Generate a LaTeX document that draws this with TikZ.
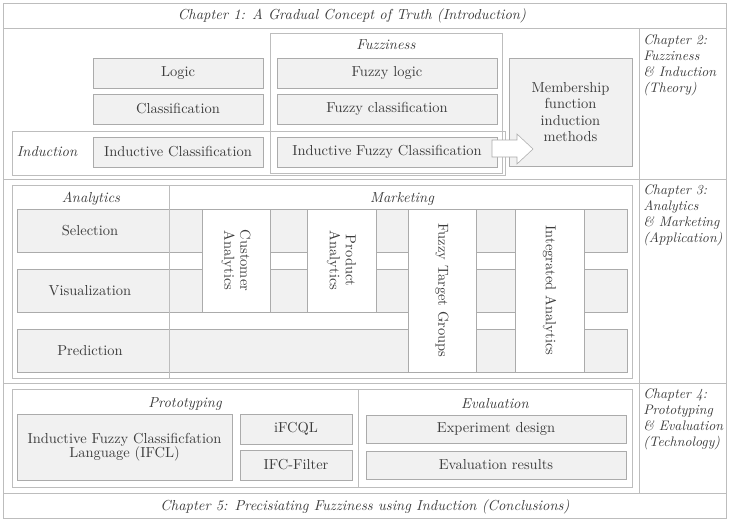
\documentclass[tikz,border=0pt]{standalone}
\usepackage{tikz}

\definecolor{boxfill}{HTML}{F1F1F1}
\definecolor{boxline}{HTML}{ABABAB}
\definecolor{frameline}{HTML}{BDBDBD}
\definecolor{ink}{HTML}{3C3C3C}

\begin{document}
\begin{tikzpicture}[x=0.025cm, y=-0.025cm,
  box/.style={draw=boxline, fill=boxfill},
  colbox/.style={draw=boxline, fill=white},
  frame/.style={draw=frameline},
  txt/.style={text=ink, font=\fontsize{10.3}{11.4}\selectfont, align=center},
  lab/.style={text=ink, font=\fontsize{10.3}{11.4}\selectfont\itshape},
  chap/.style={text=ink, font=\fontsize{9.8}{11.4}\selectfont\itshape, align=left, anchor=north west, inner sep=0pt}]
\fill[white] (0,0) rectangle (729,521);
\useasboundingbox (0,0) rectangle (729,521);

% outer frame and chapter rows
\draw[frame] (3,3) rectangle (726,518);
\foreach \y in {28,179,383,493}
\draw[frame] (3,\y) -- (726,\y);
\draw[frame] (639,28) -- (639,493);

\node[lab] (chone) at (352,16) {Chapter 1: A Gradual Concept of Truth (Introduction)};
\node[chap] (chtwo) at (643,34) {Chapter 2:\\Fuzziness\\\& Induction\\(Theory)};
\node[chap] (chthree) at (643,184) {Chapter 3:\\Analytics\\\& Marketing\\(Application)};
\node[chap] (chfour) at (643,388) {Chapter 4:\\Prototyping\\\& Evaluation\\(Technology)};
\node[lab] (chfive) at (365,507) {Chapter 5: Precisiating Fuzziness using Induction (Conclusions)};

%%% theory
\draw[frame] (270,33) rectangle (502,173);
\draw[frame] (12,131) rectangle (505,175);
\node[lab] (fuzz) at (386,45) {Fuzziness};
\node[lab] (induc) at (47,152) {Induction};

\draw[box] (93,58) rectangle (263,88) node[txt,pos=.5] (logic) {Logic};
\draw[box] (93,94) rectangle (263,124) node[txt,pos=.5] (classif) {Classification};
\draw[box] (93,137) rectangle (263,167) node[txt,pos=.5] (indclass) {Inductive Classification};
\draw[box] (277,58) rectangle (497,88) node[txt,pos=.5] (fuzzlogic) {Fuzzy logic};
\draw[box] (277,94) rectangle (497,124) node[txt,pos=.5] (fuzzclass) {Fuzzy classification};
\draw[box] (277,137) rectangle (497,167) node[txt,pos=.5] (indfuzz) {Inductive Fuzzy Classification};
\draw[box] (509,58) rectangle (632,166) node[txt,pos=.5,font=\fontsize{10.3}{11.6}\selectfont] (memb) {Membership\\function\\induction\\methods};

% block arrow
\draw[colbox] (492,140) -- (517,140) -- (517,134) -- (533,149) -- (517,164) -- (517,157) -- (492,157) -- cycle;

%%% application
\draw[frame] (12,185) rectangle (632,378);
\foreach \y in {209,269,329}
\draw[box] (17,\y) rectangle (627,\y+43);
\node[txt] (sel) at (90,231) {Selection};
\node[txt] (vis) at (90,291) {Visualization};
\node[txt] (pred) at (90,351) {Prediction};

\draw[colbox] (202,209) rectangle (270,312) node[txt,pos=.5,rotate=-90] (cust) {Customer\\Analytics};
\draw[colbox] (307,209) rectangle (376,312) node[txt,pos=.5,rotate=-90] (prod) {Product\\Analytics};
\draw[colbox] (408,209) rectangle (476,372) node[txt,pos=.5,rotate=-90] (target) {Fuzzy Target Groups};
\draw[colbox] (515,209) rectangle (584,372) node[txt,pos=.5,rotate=-90] (integ) {Integrated Analytics};

\draw[frame] (169,185) -- (169,378);
\node[lab] (analyt) at (91,199) {Analytics};
\node[lab] (market) at (402,199) {Marketing};

%%% technology
\draw[frame] (12,389) rectangle (632,487);
\draw[frame] (358,389) -- (358,487);
\node[lab] (proto) at (185,404) {Prototyping};
\node[lab] (evalu) at (495,404) {Evaluation};

\draw[box] (17,414) rectangle (232,480) node[txt,pos=.5,font=\fontsize{10.3}{10.2}\selectfont] (ifcl) {Inductive Fuzzy Classificfation\\Language (IFCL)};
\draw[box] (240,414) rectangle (352,444) node[txt,pos=.5] (ifcql) {iFCQL};
\draw[box] (240,450) rectangle (352,480) node[txt,pos=.5] (filter) {IFC-Filter};
\draw[box] (366,415) rectangle (626,443) node[txt,pos=.5] (expdes) {Experiment design};
\draw[box] (366,451) rectangle (626,479) node[txt,pos=.5] (evres) {Evaluation results};

\end{tikzpicture}
\end{document}
